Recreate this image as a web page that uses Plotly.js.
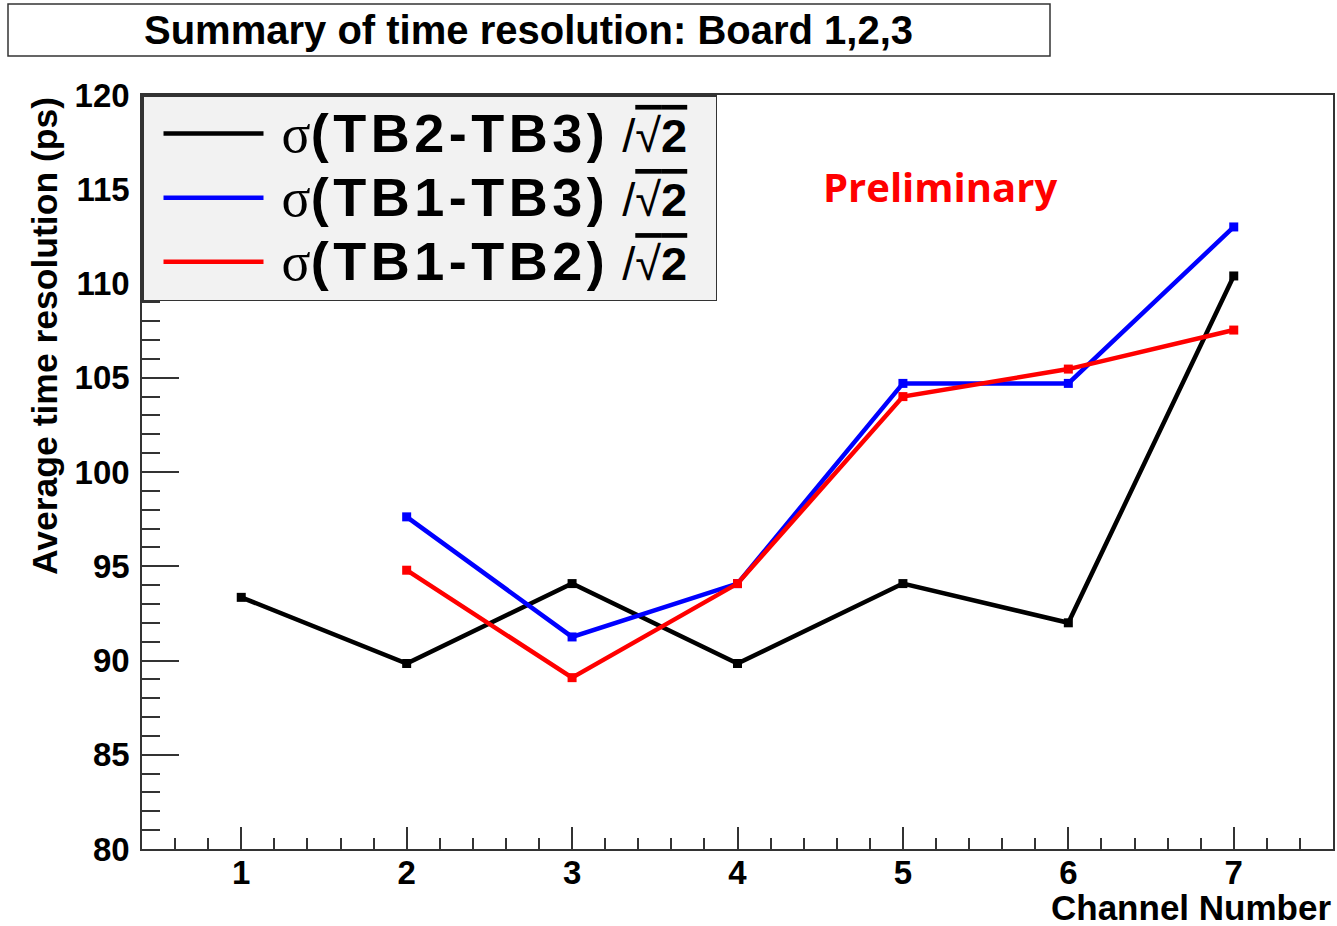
<!DOCTYPE html>
<html>
<head>
<meta charset="utf-8">
<script src="https://cdn.plot.ly/plotly-3.0.1.min.js"></script>
<style>
html,body{margin:0;padding:0;background:#fff;}
#chart{width:1337px;height:926px;}
</style>
</head>
<body>
<div id="chart"></div>
<script>
// Data
const channels = [1, 2, 3, 4, 5, 6, 7];
const channelsB = [2, 3, 4, 5, 6, 7];
const tb2tb3 = [93.35, 89.84, 94.08, 89.84, 94.08, 92.0, 110.4];
const tb1tb3 = [97.62, 91.25, 94.08, 104.7, 104.7, 113.0];
const tb1tb2 = [94.79, 89.09, 94.08, 104.0, 105.46, 107.53];
const pairLabels = ['TB2-TB3', 'TB1-TB3', 'TB1-TB2'];
const seriesColors = ['#000000', '#0000ff', '#ff0000'];
const titleText = '<b>Summary of time resolution: Board 1,2,3</b>';
const yTitle = '<b>Average time resolution (ps)</b>';
const xTitle = '<b>Channel Number</b>';
const xTicks = [1, 2, 3, 4, 5, 6, 7];
const yTicks = [80, 85, 90, 95, 100, 105, 110, 115, 120];

function legendName(p) {
  return '\u00a0<span style="font-family:Liberation Serif;font-size:54px">σ</span>' +
    '<b><span style="font-size:54px;letter-spacing:4.5px">(' + p + ')</span></b>' +
    '\u00a0/<span style="text-decoration:overline;text-decoration-thickness:1.5px">√<b>2</b></span>\u00a0\u2009';
}

const xs = [channels, channelsB, channelsB];
const ys = [tb2tb3, tb1tb3, tb1tb2];
const data = [];
for (let i = 0; i < 3; i++) {
  data.push({
    x: xs[i], y: ys[i], type: 'scatter', mode: 'lines',
    name: legendName(pairLabels[i]),
    line: {color: seriesColors[i], width: 4.5}
  });
}
for (let i = 0; i < 3; i++) {
  data.push({
    x: xs[i], y: ys[i], type: 'scatter', mode: 'markers',
    showlegend: false, hoverinfo: 'skip',
    marker: {color: seriesColors[i], symbol: 'square', size: 9}
  });
}

const font = 'Liberation Sans, Arial, sans-serif';
const layout = {
  width: 1337, height: 926,
  margin: {l: 142, r: 4, t: 95, b: 77},
  paper_bgcolor: '#ffffff', plot_bgcolor: '#ffffff',
  font: {family: font, color: '#000'},
  showlegend: true,
  legend: {
    x: 0, y: 1, xanchor: 'left', yanchor: 'top',
    bgcolor: '#f2f2f2', bordercolor: '#333', borderwidth: 1.5,
    font: {family: font, size: 47, color: '#000'},
    itemwidth: 100, indentation: 15, traceorder: 'normal',
    itemclick: false
  },
  xaxis: {
    range: [0.4, 7.6], tickvals: xTicks, ticktext: xTicks.map(v => '<b>' + v + '</b>'),
    ticks: 'inside', ticklen: 22, tickwidth: 1.5, tickcolor: '#333',
    minor: {dtick: 0.2, tick0: 0, ticks: 'inside', ticklen: 11, tickwidth: 1.5, tickcolor: '#333'},
    showgrid: false, zeroline: false,
    showline: true, linecolor: '#333', linewidth: 1.5, mirror: true,
    tickfont: {family: font, size: 33, color: '#000'}, ticklabelstandoff: -6
  },
  yaxis: {
    range: [80, 120], tickvals: yTicks, ticktext: yTicks.map(v => '<b>' + v + '</b>'),
    ticks: 'inside', ticklen: 37, tickwidth: 1.5, tickcolor: '#333',
    minor: {dtick: 1, tick0: 0, ticks: 'inside', ticklen: 18, tickwidth: 1.5, tickcolor: '#333'},
    showgrid: false, zeroline: false,
    showline: true, linecolor: '#333', linewidth: 1.5, mirror: true,
    tickfont: {family: font, size: 33, color: '#000'}, ticklabelstandoff: 4
  },
  shapes: [
    {type: 'rect', xref: 'paper', yref: 'paper', layer: 'above',
     x0: -134/1191, x1: 908/1191, y0: 1 + 39/754, y1: 1 + 91/754,
     line: {color: '#333', width: 1.5}, fillcolor: 'rgba(0,0,0,0)'}
  ],
  annotations: [
    {text: titleText, xref: 'paper', yref: 'paper', x: 386/1191, y: 1 + 65/754,
     xanchor: 'center', yanchor: 'middle', showarrow: false,
     font: {family: font, size: 40, color: '#000'}},
    {text: yTitle, xref: 'paper', yref: 'paper', x: -97/1191, y: 1,
     xanchor: 'center', yanchor: 'top', textangle: -90, showarrow: false,
     font: {family: font, size: 35.5, color: '#000'}},
    {text: xTitle, xref: 'paper', yref: 'paper', x: 1, y: -58/754, xshift: -1,
     xanchor: 'right', yanchor: 'middle', showarrow: false, borderpad: 0,
     font: {family: font, size: 35, color: '#000'}},
    {text: '<b>Preliminary</b>', xref: 'paper', yref: 'paper', x: (940-142)/1191, y: 1 - 91/754,
     xanchor: 'center', yanchor: 'middle', showarrow: false,
     font: {family: 'Open Sans, Lato, sans-serif', size: 40, color: '#ff0000'}}
  ]
};

Plotly.newPlot('chart', data, layout, {displayModeBar: false});
</script>
</body>
</html>
